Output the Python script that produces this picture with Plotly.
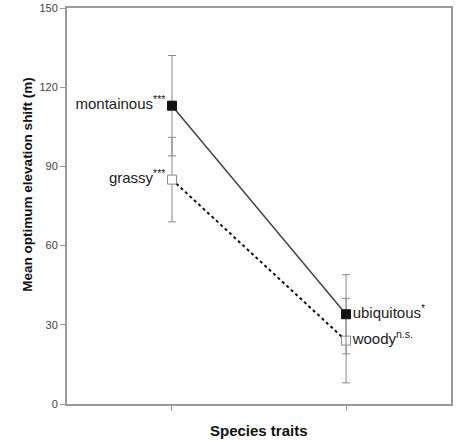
import plotly.graph_objects as go

# Data
positions = [1, 2]
series_a_labels = ["montainous", "ubiquitous"]
series_a_sig = ["***", "*"]
series_a_values = [113, 34]
series_a_err = [19, 15]

series_b_labels = ["grassy", "woody"]
series_b_sig = ["***", "n.s."]
series_b_values = [85, 24]
series_b_err = [16, 16]

y_ticks = [0, 30, 60, 90, 120, 150]

fig = go.Figure()

def lbl(name, sig):
    return f"{name}<sup>{sig}</sup>"

fig.add_trace(go.Scatter(
    x=positions, y=series_b_values,
    mode="lines+markers+text",
    line=dict(color="#111111", width=2, dash="dot"),
    marker=dict(symbol="square", size=9, color="white", line=dict(color="#888888", width=1)),
    error_y=dict(type="data", array=series_b_err, color="#8a8a8a", thickness=1, width=4),
    text=[lbl(n, s) for n, s in zip(series_b_labels, series_b_sig)],
    textposition=["middle left", "middle right"],
    textfont=dict(family="Arial, Liberation Sans", size=15, color="#222222"),
    showlegend=False, cliponaxis=False,
))

fig.add_trace(go.Scatter(
    x=positions, y=series_a_values,
    mode="lines+markers+text",
    line=dict(color="#444444", width=1.5),
    marker=dict(symbol="square", size=9, color="#111111", line=dict(color="#111111", width=1)),
    error_y=dict(type="data", array=series_a_err, color="#8a8a8a", thickness=1, width=4),
    text=[lbl(n, s) for n, s in zip(series_a_labels, series_a_sig)],
    textposition=["middle left", "middle right"],
    textfont=dict(family="Arial, Liberation Sans", size=15, color="#222222"),
    showlegend=False, cliponaxis=False,
))

fig.update_layout(
    width=457, height=442,
    margin=dict(l=67, r=6, t=8, b=38, autoexpand=False),
    paper_bgcolor="white", plot_bgcolor="white",
    font=dict(family="Arial, Liberation Sans", color="#333333"),
    xaxis=dict(
        range=[0.397, 2.603], tickvals=positions, ticktext=["", ""],
        ticks="outside", ticklen=5, tickcolor="#999999", tickwidth=1,
        showline=True, linecolor="#9a9a9a", linewidth=2, mirror=True,
        showgrid=False, zeroline=False, automargin=False,
    ),
    yaxis=dict(
        range=[0, 150], tickvals=y_ticks,
        ticks="outside", ticklen=5, tickcolor="#999999", tickwidth=1,
        tickfont=dict(size=11, color="#444444"),
        showline=True, linecolor="#9a9a9a", linewidth=2, mirror=True,
        showgrid=False, zeroline=False, automargin=False,
    ),
    annotations=[
        dict(text="<b>Species traits</b>", xref="paper", yref="paper",
             x=0.5, y=-0.067, xanchor="center", yanchor="middle", showarrow=False,
             font=dict(size=15, color="#111111")),
        dict(text="<b>Mean optimum elevation shift (m)</b>", xref="paper", yref="paper",
             x=-0.102, y=0.556, xanchor="center", yanchor="middle", showarrow=False,
             textangle=-90, font=dict(size=13.5, color="#111111")),
    ],
)

fig.write_html(
    "out.html",
    config={"displayModeBar": False, "staticPlot": True},
    post_script="document.body.style.margin='0px';document.body.style.overflow='hidden';",
)
